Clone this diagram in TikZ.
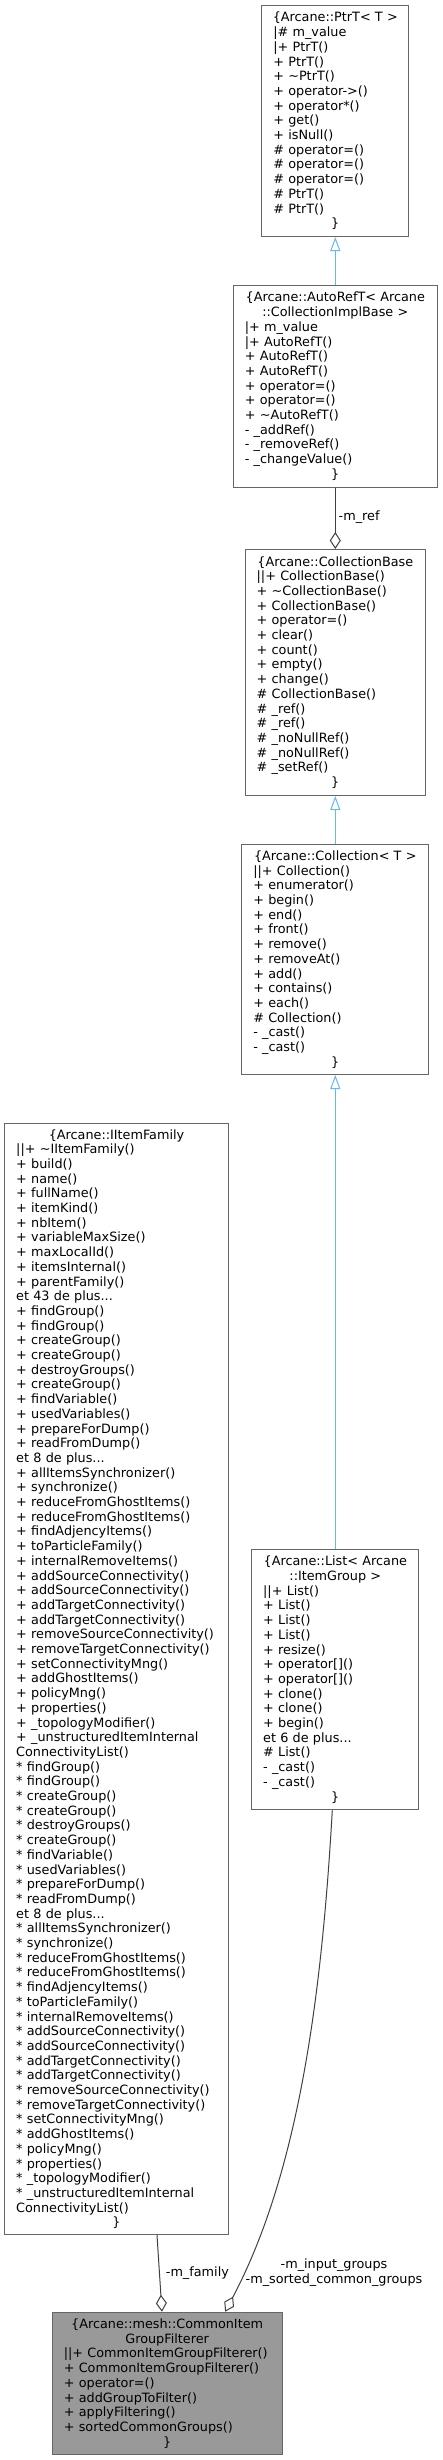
\documentclass[tikz,border=0pt]{standalone}
\usepackage{fontspec}
\newfontfamily\dvs{DejaVu Sans}
\usetikzlibrary{arrows.meta}
\definecolor{boxborder}{HTML}{666666}
\definecolor{inhblue}{HTML}{63B8FF}
\definecolor{assocgray}{HTML}{404040}
\definecolor{mainfill}{HTML}{999999}
\newcommand\tl[1]{\hbox to \hsize{\hss#1\hss}}
\newcommand\ml[1]{\hbox to \hsize{#1\hss}}
\begin{document}
\begin{tikzpicture}[x=1pt,y=-1pt,
  cls/.style={draw=boxborder, fill=white, line width=1pt, rectangle, anchor=north,
    inner xsep=11.5pt, inner ysep=0pt, font=\dvs\fontsize{12.8}{14.7}\selectfont},
  inh/.style={draw=inhblue, line width=1pt, -{Triangle[open,fill=white,length=14pt,width=10pt]}},
  assoc/.style={draw=assocgray, line width=1pt, -{Diamond[open,fill=white,length=17pt,width=11pt]}},
  lbl/.style={inner sep=0pt, font=\dvs\fontsize{12.8}{14.7}\selectfont, text=black},
]
\useasboundingbox (0,0) rectangle (442,2460);

\node[cls, text width=124pt, minimum height=231pt] (ptrt) at (335.3,5) {%
\tl{\{Arcane::PtrT< T >}
\ml{|\# m\_value}
\ml{|+ PtrT()}
\ml{+ PtrT()}
\ml{+ \textasciitilde PtrT()}
\ml{+ operator->()}
\ml{+ operator*()}
\ml{+ get()}
\ml{+ isNull()}
\ml{\# operator=()}
\ml{\# operator=()}
\ml{\# operator=()}
\ml{\# PtrT()}
\ml{\# PtrT()}
\tl{\}}};

\node[cls, text width=181pt, minimum height=201.7pt] (autoref) at (335.3,285) {%
\tl{\{Arcane::AutoRefT< Arcane}
\tl{::CollectionImplBase >}
\ml{|+ m\_value}
\ml{|+ AutoRefT()}
\ml{+ AutoRefT()}
\ml{+ AutoRefT()}
\ml{+ operator=()}
\ml{+ operator=()}
\ml{+ \textasciitilde AutoRefT()}
\ml{- \_addRef()}
\ml{- \_removeRef()}
\ml{- \_changeValue()}
\tl{\}}};

\node[cls, text width=157.3pt, minimum height=246pt] (collbase) at (335.3,549) {%
\tl{\{Arcane::CollectionBase}
\ml{||+ CollectionBase()}
\ml{+ \textasciitilde CollectionBase()}
\ml{+ CollectionBase()}
\ml{+ operator=()}
\ml{+ clear()}
\ml{+ count()}
\ml{+ empty()}
\ml{+ change()}
\ml{\# CollectionBase()}
\ml{\# \_ref()}
\ml{\# \_ref()}
\ml{\# \_noNullRef()}
\ml{\# \_noNullRef()}
\ml{\# \_setRef()}
\tl{\}}};

\node[cls, text width=164pt, minimum height=230pt] (coll) at (335.3,844) {%
\tl{\{Arcane::Collection< T >}
\ml{||+ Collection()}
\ml{+ enumerator()}
\ml{+ begin()}
\ml{+ end()}
\ml{+ front()}
\ml{+ remove()}
\ml{+ removeAt()}
\ml{+ add()}
\ml{+ contains()}
\ml{+ each()}
\ml{\# Collection()}
\ml{- \_cast()}
\ml{- \_cast()}
\tl{\}}};

\node[cls, text width=144.3pt, minimum height=260.3pt] (list) at (335.3,1549) {%
\tl{\{Arcane::List< Arcane}
\tl{::ItemGroup >}
\ml{||+ List()}
\ml{+ List()}
\ml{+ List()}
\ml{+ List()}
\ml{+ resize()}
\ml{+ operator[]()}
\ml{+ operator[]()}
\ml{+ clone()}
\ml{+ clone()}
\ml{+ begin()}
\ml{et 6 de plus...}
\ml{\# List()}
\ml{- \_cast()}
\ml{- \_cast()}
\tl{\}}};

\node[cls, text width=200.6pt, minimum height=1110.7pt] (iif) at (116.5,1123.3) {%
\tl{\{Arcane::IItemFamily}
\ml{||+ \textasciitilde IItemFamily()}
\ml{+ build()}
\ml{+ name()}
\ml{+ fullName()}
\ml{+ itemKind()}
\ml{+ nbItem()}
\ml{+ variableMaxSize()}
\ml{+ maxLocalId()}
\ml{+ itemsInternal()}
\ml{+ parentFamily()}
\ml{et 43 de plus...}
\ml{+ findGroup()}
\ml{+ findGroup()}
\ml{+ createGroup()}
\ml{+ createGroup()}
\ml{+ destroyGroups()}
\ml{+ createGroup()}
\ml{+ findVariable()}
\ml{+ usedVariables()}
\ml{+ prepareForDump()}
\ml{+ readFromDump()}
\ml{et 8 de plus...}
\ml{+ allItemsSynchronizer()}
\ml{+ synchronize()}
\ml{+ reduceFromGhostItems()}
\ml{+ reduceFromGhostItems()}
\ml{+ findAdjencyItems()}
\ml{+ toParticleFamily()}
\ml{+ internalRemoveItems()}
\ml{+ addSourceConnectivity()}
\ml{+ addSourceConnectivity()}
\ml{+ addTargetConnectivity()}
\ml{+ addTargetConnectivity()}
\ml{+ removeSourceConnectivity()}
\ml{+ removeTargetConnectivity()}
\ml{+ setConnectivityMng()}
\ml{+ addGhostItems()}
\ml{+ policyMng()}
\ml{+ properties()}
\ml{+ \_topologyModifier()}
\ml{+ \_unstructuredItemInternal}
\ml{ConnectivityList()}
\ml{* findGroup()}
\ml{* findGroup()}
\ml{* createGroup()}
\ml{* createGroup()}
\ml{* destroyGroups()}
\ml{* createGroup()}
\ml{* findVariable()}
\ml{* usedVariables()}
\ml{* prepareForDump()}
\ml{* readFromDump()}
\ml{et 8 de plus...}
\ml{* allItemsSynchronizer()}
\ml{* synchronize()}
\ml{* reduceFromGhostItems()}
\ml{* reduceFromGhostItems()}
\ml{* findAdjencyItems()}
\ml{* toParticleFamily()}
\ml{* internalRemoveItems()}
\ml{* addSourceConnectivity()}
\ml{* addSourceConnectivity()}
\ml{* addTargetConnectivity()}
\ml{* addTargetConnectivity()}
\ml{* removeSourceConnectivity()}
\ml{* removeTargetConnectivity()}
\ml{* setConnectivityMng()}
\ml{* addGhostItems()}
\ml{* policyMng()}
\ml{* properties()}
\ml{* \_topologyModifier()}
\ml{* \_unstructuredItemInternal}
\ml{ConnectivityList()}
\tl{\}}};

\node[cls, fill=mainfill, text width=206.7pt, minimum height=142.6pt] (common) at (167.15,2311.7) {%
\tl{\{Arcane::mesh::CommonItem}
\tl{GroupFilterer}
\ml{||+ CommonItemGroupFilterer()}
\ml{+ CommonItemGroupFilterer()}
\ml{+ operator=()}
\ml{+ addGroupToFilter()}
\ml{+ applyFiltering()}
\ml{+ sortedCommonGroups()}
\tl{\}}};

\draw[inh] (autoref.north) -- (autoref.north |- ptrt.south);
\draw[assoc] (autoref.south) -- (autoref.south |- collbase.north);
\draw[inh] (coll.north) -- (coll.north |- collbase.south);
\draw[inh] (list.north) -- (list.north |- coll.south);
\draw[assoc] ([xshift=40.5pt]iif.south) -- ([xshift=-5.2pt]common.north);
\draw[assoc] ([xshift=-3pt]list.south) .. controls (322,1990) and (300,2170) .. ([xshift=58pt]common.north);

\node[lbl, anchor=west] (lref) at (338.5,516.7) {-m\_ref};
\node[lbl, anchor=west] (lfam) at (165.7,2273) {-m\_family};
\node[lbl, align=center] (llist) at (334,2272.3) {-m\_input\_groups\\-m\_sorted\_common\_groups};
\end{tikzpicture}
\end{document}
